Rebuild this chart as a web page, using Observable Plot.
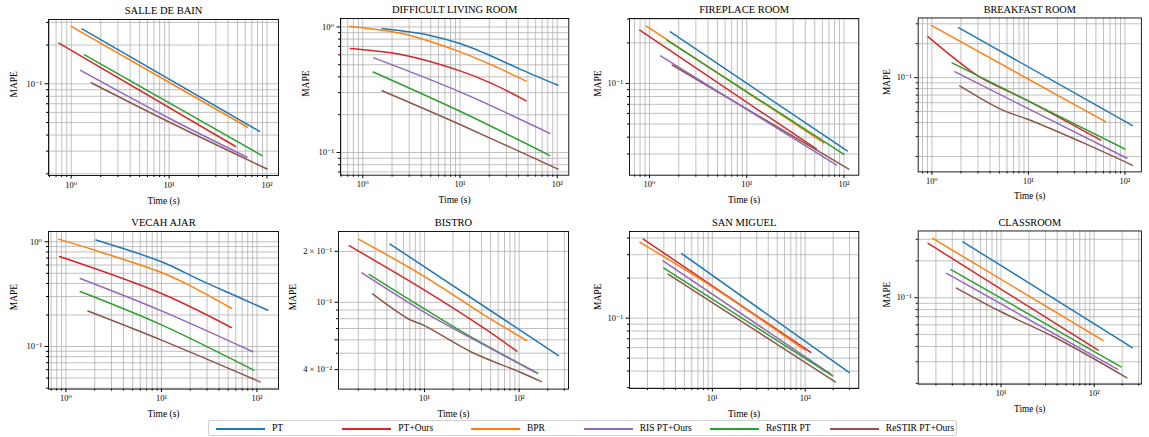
<!DOCTYPE html>
<html>
<head>
<meta charset="utf-8">
<script src="https://cdn.jsdelivr.net/npm/d3@7"></script>
<script src="https://cdn.jsdelivr.net/npm/@observablehq/plot@0.6"></script>
<style>
  body { margin: 0; background: #fff; }
  #root { position: relative; width: 1149px; height: 437px; overflow: hidden;
          font-family: "Liberation Serif", "DejaVu Serif", serif; font-weight: 400; color: #000; }
  .panel { position: absolute; }
  .panel svg { overflow: visible; font-weight: 400; }
  #legend { position: absolute; left: 208px; top: 420px; width: 749px; height: 16px;
            border: 1px solid #cfcfcf; border-radius: 2px; box-sizing: border-box; }
  .lg-line { position: absolute; height: 2px; top: 7px; }
  .lg-text { position: absolute; top: 1px; font-size: 9.5px; line-height: 12px; white-space: nowrap; font-weight: 400; }
</style>
</head>
<body>
<div id="root"></div>
<script>
// ---------------- data ----------------
const methods = ["PT", "PT+Ours", "BPR", "RIS PT+Ours", "ReSTIR PT", "ReSTIR PT+Ours"];
const methodColors = ["#1f77b4", "#d62728", "#ff7f0e", "#9467bd", "#2ca02c", "#8c564b"];
const scenes = ["SALLE DE BAIN", "DIFFICULT LIVING ROOM", "FIREPLACE ROOM", "BREAKFAST ROOM",
                "VECAH AJAR", "BISTRO", "SAN MIGUEL", "CLASSROOM"];

// rows: [method, time (s), MAPE]
const salleDeBain = [
  ["PT", 1.29, 0.267], ["PT", 84, 0.0427],
  ["BPR", 1.0, 0.279], ["BPR", 63.4, 0.046],
  ["PT+Ours", 0.748, 0.207], ["PT+Ours", 47.8, 0.0326],
  ["ReSTIR PT", 1.37, 0.168], ["ReSTIR PT", 88.9, 0.0277],
  ["RIS PT+Ours", 1.245, 0.127], ["RIS PT+Ours", 10, 0.054], ["RIS PT+Ours", 62.5, 0.0269],
  ["ReSTIR PT+Ours", 1.6, 0.102], ["ReSTIR PT+Ours", 10, 0.0505], ["ReSTIR PT+Ours", 100, 0.0218]
];
const difficultLivingRoom = [
  ["PT", 1.58, 0.97], ["PT", 4.78, 0.86], ["PT", 10, 0.737], ["PT", 18.3, 0.614], ["PT", 40.3, 0.466], ["PT", 102, 0.343],
  ["BPR", 0.73, 1.01], ["BPR", 2.54, 0.885], ["BPR", 10, 0.633], ["BPR", 21.4, 0.496], ["BPR", 48, 0.37],
  ["PT+Ours", 0.746, 0.672], ["PT+Ours", 2.54, 0.6], ["PT+Ours", 10, 0.447], ["PT+Ours", 21.4, 0.354], ["PT+Ours", 48, 0.258],
  ["RIS PT+Ours", 1.3, 0.567], ["RIS PT+Ours", 10, 0.304], ["RIS PT+Ours", 84, 0.142],
  ["ReSTIR PT", 1.28, 0.438], ["ReSTIR PT", 10, 0.213], ["ReSTIR PT", 84, 0.0946],
  ["ReSTIR PT+Ours", 1.58, 0.31], ["ReSTIR PT+Ours", 10, 0.167], ["ReSTIR PT+Ours", 102, 0.0737]
];
const fireplaceRoom = [
  ["PT", 1.64, 0.241], ["PT", 108, 0.0316],
  ["BPR", 0.93, 0.266], ["BPR", 62, 0.0363],
  ["ReSTIR PT", 1.52, 0.209], ["ReSTIR PT", 100, 0.0298],
  ["PT+Ours", 0.795, 0.248], ["PT+Ours", 51.9, 0.0327],
  ["ReSTIR PT+Ours", 1.71, 0.137], ["ReSTIR PT+Ours", 112, 0.0232],
  ["RIS PT+Ours", 1.30, 0.160], ["RIS PT+Ours", 84, 0.0248]
];
const breakfastRoom = [
  ["PT", 1.89, 0.277], ["PT", 120, 0.0376],
  ["BPR", 0.985, 0.29], ["BPR", 62.7, 0.0407],
  ["PT+Ours", 0.91, 0.231], ["PT+Ours", 1.86, 0.14], ["PT+Ours", 3.21, 0.1], ["PT+Ours", 10, 0.062], ["PT+Ours", 56.2, 0.0279],
  ["ReSTIR PT", 1.62, 0.135], ["ReSTIR PT", 100, 0.0233],
  ["RIS PT+Ours", 1.72, 0.113], ["RIS PT+Ours", 105, 0.0193],
  ["ReSTIR PT+Ours", 1.94, 0.0847], ["ReSTIR PT+Ours", 5.5, 0.0512], ["ReSTIR PT+Ours", 10, 0.0425], ["ReSTIR PT+Ours", 41.9, 0.0252], ["ReSTIR PT+Ours", 120, 0.0167]
];
const vecahAjar = [
  ["PT", 2.06, 1.04], ["PT", 10, 0.644], ["PT", 25.5, 0.43], ["PT", 57, 0.31], ["PT", 130, 0.222],
  ["BPR", 0.838, 1.06], ["BPR", 2.29, 0.8], ["BPR", 10, 0.509], ["BPR", 18.5, 0.394], ["BPR", 53.8, 0.232],
  ["PT+Ours", 0.859, 0.724], ["PT+Ours", 10, 0.321], ["PT+Ours", 53.8, 0.152],
  ["RIS PT+Ours", 1.41, 0.446], ["RIS PT+Ours", 10, 0.219], ["RIS PT+Ours", 90.8, 0.089],
  ["ReSTIR PT", 1.41, 0.335], ["ReSTIR PT", 10, 0.161], ["ReSTIR PT", 92.5, 0.0594],
  ["ReSTIR PT+Ours", 1.70, 0.218], ["ReSTIR PT+Ours", 10, 0.115], ["ReSTIR PT+Ours", 108, 0.0459]
];
const bistro = [
  ["PT", 4.33, 0.221], ["PT", 260, 0.0484],
  ["BPR", 2.01, 0.236], ["BPR", 10, 0.142], ["BPR", 43.7, 0.0834], ["BPR", 85.5, 0.0665], ["BPR", 120, 0.0594],
  ["PT+Ours", 1.60, 0.216], ["PT+Ours", 10, 0.118], ["PT+Ours", 43.7, 0.0696], ["PT+Ours", 94.4, 0.0514],
  ["ReSTIR PT", 2.60, 0.146], ["ReSTIR PT", 10, 0.0913], ["ReSTIR PT", 31.6, 0.062], ["ReSTIR PT", 157, 0.0381],
  ["RIS PT+Ours", 2.18, 0.149], ["RIS PT+Ours", 10, 0.0873], ["RIS PT+Ours", 31.6, 0.0612], ["RIS PT+Ours", 148, 0.0386],
  ["ReSTIR PT+Ours", 2.83, 0.112], ["ReSTIR PT+Ours", 6.78, 0.0797], ["ReSTIR PT+Ours", 10, 0.0728], ["ReSTIR PT+Ours", 31.6, 0.0507], ["ReSTIR PT+Ours", 98.5, 0.039], ["ReSTIR PT+Ours", 171, 0.034]
];
const sanMiguel = [
  ["PT+Ours", 1.80, 0.393], ["PT+Ours", 115, 0.0552],
  ["BPR", 1.66, 0.371], ["BPR", 10, 0.172], ["BPR", 100, 0.0574],
  ["PT", 4.67, 0.306], ["PT", 299, 0.039],
  ["RIS PT+Ours", 2.94, 0.27], ["RIS PT+Ours", 189, 0.0379],
  ["ReSTIR PT", 3.0, 0.238], ["ReSTIR PT", 197, 0.0368],
  ["ReSTIR PT+Ours", 3.33, 0.214], ["ReSTIR PT+Ours", 211, 0.0332]
];
const classroom = [
  ["PT", 3.90, 0.286], ["PT", 256, 0.0392],
  ["BPR", 1.85, 0.305], ["BPR", 124, 0.0449],
  ["PT+Ours", 1.65, 0.278], ["PT+Ours", 110, 0.0373],
  ["ReSTIR PT", 2.90, 0.170], ["ReSTIR PT", 194, 0.0272],
  ["RIS PT+Ours", 2.61, 0.158], ["RIS PT+Ours", 179, 0.026],
  ["ReSTIR PT+Ours", 3.32, 0.120], ["ReSTIR PT+Ours", 10, 0.0768], ["ReSTIR PT+Ours", 38.6, 0.0471], ["ReSTIR PT+Ours", 224, 0.0222]
];
const sceneData = [salleDeBain, difficultLivingRoom, fireplaceRoom, breakfastRoom,
                   vecahAjar, bistro, sanMiguel, classroom];

// labelled y ticks (others are unlabelled minor ticks)
const yLabelTicks = [[0.1], [1, 0.1], [0.1], [0.1], [1, 0.1], [0.2, 0.1, 0.06, 0.04], [0.1], [0.1]];

// ---------------- layout ----------------
// frame: [left, right, top, bottom] in page px; domains of the log axes; MAPE label centre x
const layout = [
  {frame: [48.3, 278.3, 19, 175],    xd: [0.586, 131], yd: [0.0194, 0.316], mape: 14},
  {frame: [340, 568.3, 18.3, 175],   xd: [0.59, 131.6], yd: [0.066, 1.167], mape: 305},
  {frame: [629, 858.3, 18.3, 175],   xd: [0.623, 142], yd: [0.0209, 0.303], mape: 597},
  {frame: [919.3, 1147.5, 18.3, 175.7], xd: [0.721, 148], yd: [0.0146, 0.338], mape: 887},
  {frame: [48.3, 278.3, 230.7, 388.3], xd: [0.657, 168], yd: [0.0392, 1.254], mape: 14},
  {frame: [338.3, 568.3, 230.7, 388.3], xd: [1.236, 332], yd: [0.0307, 0.262], mape: 293},
  {frame: [629, 858.3, 230.7, 387.7], xd: [1.28, 378], yd: [0.0296, 0.448], mape: 597},
  {frame: [919.3, 1147.5, 230.7, 387.3], xd: [1.29, 321], yd: [0.0197, 0.351], mape: 887}
];

const SUP = "⁻⁰¹²³⁴⁵⁶⁷⁸⁹", SRC = "-0123456789";
const sup = s => String(s).replace(/[-0-9]/g, c => SUP[SRC.indexOf(c)]);
function expOf(v) { return Math.floor(Math.log10(v) + 1e-9); }
function fmtLog(v) {
  const e = expOf(v), m = Math.round(v / Math.pow(10, e));
  return m === 1 ? "10" + sup(e) : m + " × 10" + sup(e);
}
function logTicks([lo, hi]) {
  const out = [];
  for (let e = Math.floor(Math.log10(lo)) - 1; e <= Math.ceil(Math.log10(hi)); e++)
    for (let m = 1; m <= 9; m++) {
      const v = +(m * Math.pow(10, e)).toPrecision(6);
      if (v >= lo && v <= hi) out.push(v);
    }
  return out;
}
const isMajor = v => Math.abs(v / Math.pow(10, expOf(v)) - 1) < 1e-6;

const root = document.getElementById("root");
const mL = 60, mR = 8, mT = 24, mB = 34;
const gridStyle = {stroke: "#b0b0b0", strokeOpacity: 1, strokeWidth: 0.8};
const FONT = '"Liberation Serif", "DejaVu Serif", serif';

layout.forEach((L, i) => {
  const [l, r, t, b] = L.frame;
  const xt = logTicks(L.xd), yt = logTicks(L.yd);
  const xMaj = xt.filter(isMajor), xMin = xt.filter(v => !isMajor(v));
  const yLab = yLabelTicks[i];
  const yMin = yt.filter(v => !yLab.some(u => Math.abs(u - v) / v < 1e-6));
  const chart = Plot.plot({
    width: (r - l) + mL + mR,
    height: (b - t) + mT + mB,
    marginLeft: mL, marginRight: mR, marginTop: mT, marginBottom: mB,
    x: {type: "log", domain: L.xd},
    y: {type: "log", domain: L.yd},
    color: {domain: methods, range: methodColors},
    style: {fontFamily: FONT, fontSize: "8.5px", fontWeight: "400",
            background: "transparent", color: "#000", overflow: "visible"},
    marks: [
      Plot.gridX(xt, gridStyle),
      Plot.gridY(yt, gridStyle),
      Plot.line(sceneData[i], {x: d => d[1], y: d => d[2], z: d => d[0], stroke: d => d[0],
                               strokeWidth: 1.5, curve: "catmull-rom"}),
      Plot.frame({stroke: "#000", strokeWidth: 0.9}),
      Plot.axisX(xMaj, {tickSize: 3.5, tickPadding: 2.5, tickFormat: fmtLog, label: null, fontSize: 8.5}),
      Plot.axisX(xMin, {tickSize: 2, tickFormat: () => "", label: null}),
      Plot.axisY(yLab, {tickSize: 3.5, tickPadding: 3, tickFormat: fmtLog, label: null, fontSize: 8.5}),
      Plot.axisY(yMin, {tickSize: 2, tickFormat: () => "", label: null}),
      Plot.text([scenes[i]], {text: d => d, frameAnchor: "top", dy: -5.5, lineAnchor: "bottom",
                              fontSize: 10.5, fontWeight: "normal"}),
      Plot.text(["MAPE"], {text: d => d, frameAnchor: "left", rotate: -90, dx: L.mape - l,
                           lineAnchor: "middle", fontSize: 9.5, fontWeight: "normal"}),
      Plot.text(["Time (s)"], {text: d => d, frameAnchor: "bottom", dy: 25, lineAnchor: "middle",
                               fontSize: 9.5, fontWeight: "normal"})
    ]
  });
  const wrap = document.createElement("div");
  wrap.className = "panel";
  wrap.style.left = (l - mL) + "px";
  wrap.style.top = (t - mT) + "px";
  wrap.appendChild(chart);
  root.appendChild(wrap);
});

// ---------------- legend ----------------
const legendTextX = [271, 397.3, 526, 638.7, 764.9, 884.8];
const legend = document.createElement("div");
legend.id = "legend";
methods.forEach((m, k) => {
  const ln = document.createElement("div");
  ln.className = "lg-line";
  ln.style.left = (legendTextX[k] - 56 - 208) + "px";
  ln.style.width = "49px";
  ln.style.background = methodColors[k];
  const tx = document.createElement("div");
  tx.className = "lg-text";
  tx.style.left = (legendTextX[k] - 208) + "px";
  tx.textContent = m;
  legend.appendChild(ln);
  legend.appendChild(tx);
});
root.appendChild(legend);
</script>
</body>
</html>
